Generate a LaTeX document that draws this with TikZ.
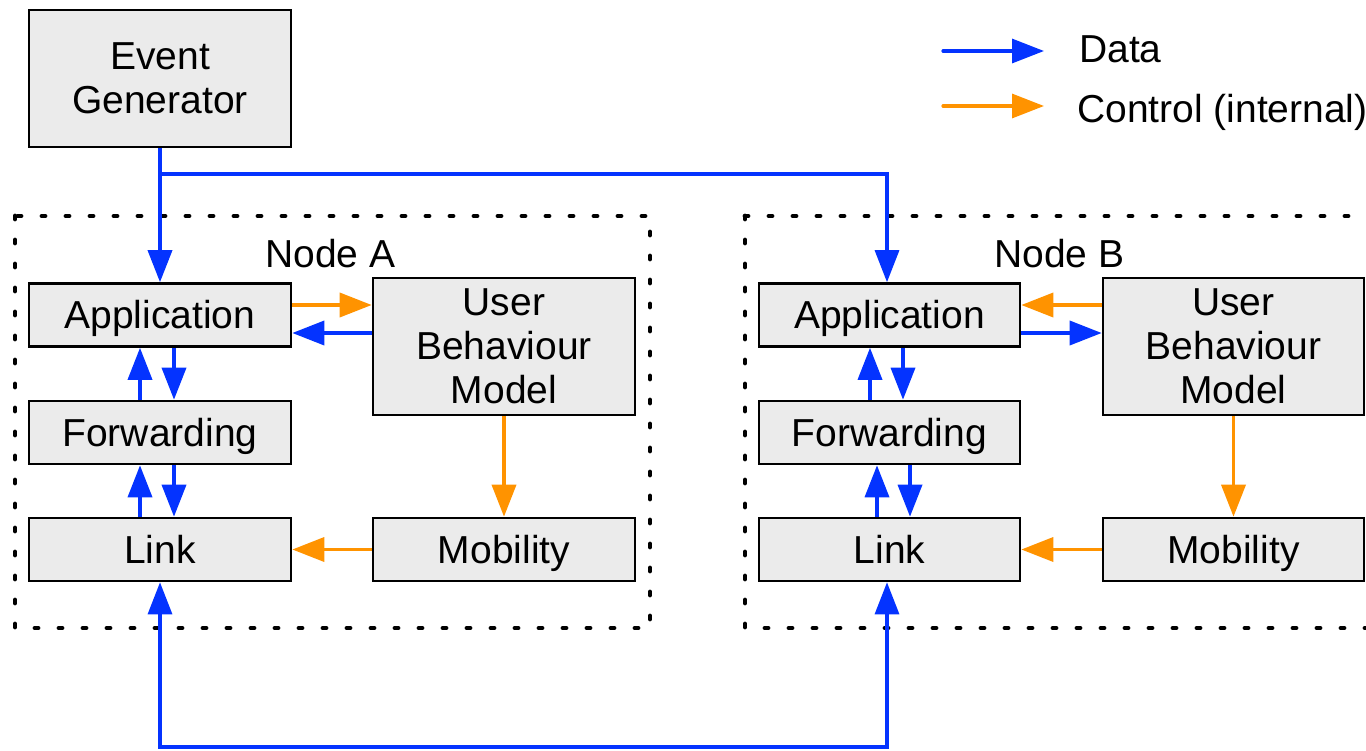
\documentclass[tikz,border=0pt]{standalone}
\usepackage{fontspec}
\setmainfont{Liberation Sans}
\usetikzlibrary{arrows.meta}
\definecolor{datablue}{RGB}{4,51,255}
\definecolor{ctrlorange}{RGB}{255,147,0}
\definecolor{boxgray}{RGB}{235,235,235}
\begin{document}
\begin{tikzpicture}[x=1pt,y=-1pt,
  every node/.style={font=\fontsize{39}{44}\selectfont, inner sep=0pt},
  box/.style={draw=black, fill=boxgray, line width=2.6pt, align=center, minimum width=262pt},
  smallbox/.style={box, minimum height=63pt, text height=27.6pt, text depth=0pt},
  tallbox/.style={box, minimum height=137pt},
  dataarrow/.style={draw=datablue, line width=3.6pt, -{Triangle[length=32pt,width=24pt]}},
  ctrlarrow/.style={draw=ctrlorange, line width=3.6pt, -{Triangle[length=32pt,width=24pt]}},
  nodeframe/.style={draw=black, line width=4.8pt, line cap=round, dash pattern=on 3pt off 21pt},
  lbl/.style={anchor=base west}]
\useasboundingbox (0,0) rectangle (1366,750);
\clip (0,0) rectangle (1366,750);
% frames
\draw[nodeframe] (15,216) rectangle (650,628);
\draw[nodeframe] (745,216) -- (1400,216);
\draw[nodeframe] (745,216) -- (745,628) -- (1400,628);
\node[lbl] (labA) at (265,267) {Node A};
\node[lbl] (labB) at (994,267) {Node B};
% boxes
\node[tallbox] (eg) at (160,78.5) {Event\\Generator};
\node[smallbox] (appA) at (160,315) {Application};
\node[smallbox] (fwdA) at (160,432.5) {Forwarding};
\node[smallbox] (linkA) at (160,549.5) {Link};
\node[tallbox] (ubmA) at (504,346.5) {User\\Behaviour\\Model};
\node[smallbox] (mobA) at (504,549.5) {Mobility};
\node[smallbox, minimum width=261pt] (appB) at (889.5,315) {Application};
\node[smallbox, minimum width=261pt] (fwdB) at (889.5,432.5) {Forwarding};
\node[smallbox, minimum width=261pt] (linkB) at (889.5,549.5) {Link};
\node[tallbox, minimum width=261pt] (ubmB) at (1233.5,346.5) {User\\Behaviour\\Model};
\node[smallbox, minimum width=261pt] (mobB) at (1233.5,549.5) {Mobility};
% event generator
\draw[dataarrow] (eg.south) -- (appA.north);
\coordinate (branch) at (160,174);
\draw[dataarrow, line width=3.2pt] (branch) -| (appB.north -| 887,0);
% node A
\draw[ctrlarrow] (appA.east |- 0,305) -- (ubmA.west |- 0,305);
\draw[dataarrow] (ubmA.west |- 0,333) -- (appA.east |- 0,333);
\draw[dataarrow] (fwdA.north -| 140,0) -- (appA.south -| 140,0);
\draw[dataarrow] (appA.south -| 174,0) -- (fwdA.north -| 174,0);
\draw[dataarrow] (linkA.north -| 140,0) -- (fwdA.south -| 140,0);
\draw[dataarrow] (fwdA.south -| 174,0) -- (linkA.north -| 174,0);
\draw[ctrlarrow] (ubmA.south) -- (mobA.north);
\draw[ctrlarrow] (mobA.west) -- (linkA.east);
% node B
\draw[ctrlarrow] (ubmB.west |- 0,305) -- (appB.east |- 0,305);
\draw[dataarrow] (appB.east |- 0,333) -- (ubmB.west |- 0,333);
\draw[dataarrow] (fwdB.north -| 870,0) -- (appB.south -| 870,0);
\draw[dataarrow] (appB.south -| 903,0) -- (fwdB.north -| 903,0);
\draw[dataarrow] (linkB.north -| 877,0) -- (fwdB.south -| 877,0);
\draw[dataarrow] (fwdB.south -| 910,0) -- (linkB.north -| 910,0);
\draw[ctrlarrow] (ubmB.south) -- (mobB.north);
\draw[ctrlarrow] (mobB.west) -- (linkB.east);
% link between nodes
\coordinate (bottom) at (0,747);
\draw[dataarrow, line width=3.2pt, {Triangle[length=32pt,width=24pt]}-{Triangle[length=32pt,width=24pt]}]
  (linkA.south) |- (bottom -| 887,0) -- (linkB.south -| 887,0);
% legend
\coordinate (d1) at (943,51); \coordinate (d2) at (1044,51);
\coordinate (c1) at (943,106); \coordinate (c2) at (1044,106);
\draw[dataarrow, line width=3.2pt, line cap=round] (d1) -- (d2);
\draw[ctrlarrow, line width=3.2pt, line cap=round] (c1) -- (c2);
\node[lbl] (ldata) at (1079,62) {Data};
\node[lbl] (lctrl) at (1077,122) {Control (internal)};
\end{tikzpicture}
\end{document}
